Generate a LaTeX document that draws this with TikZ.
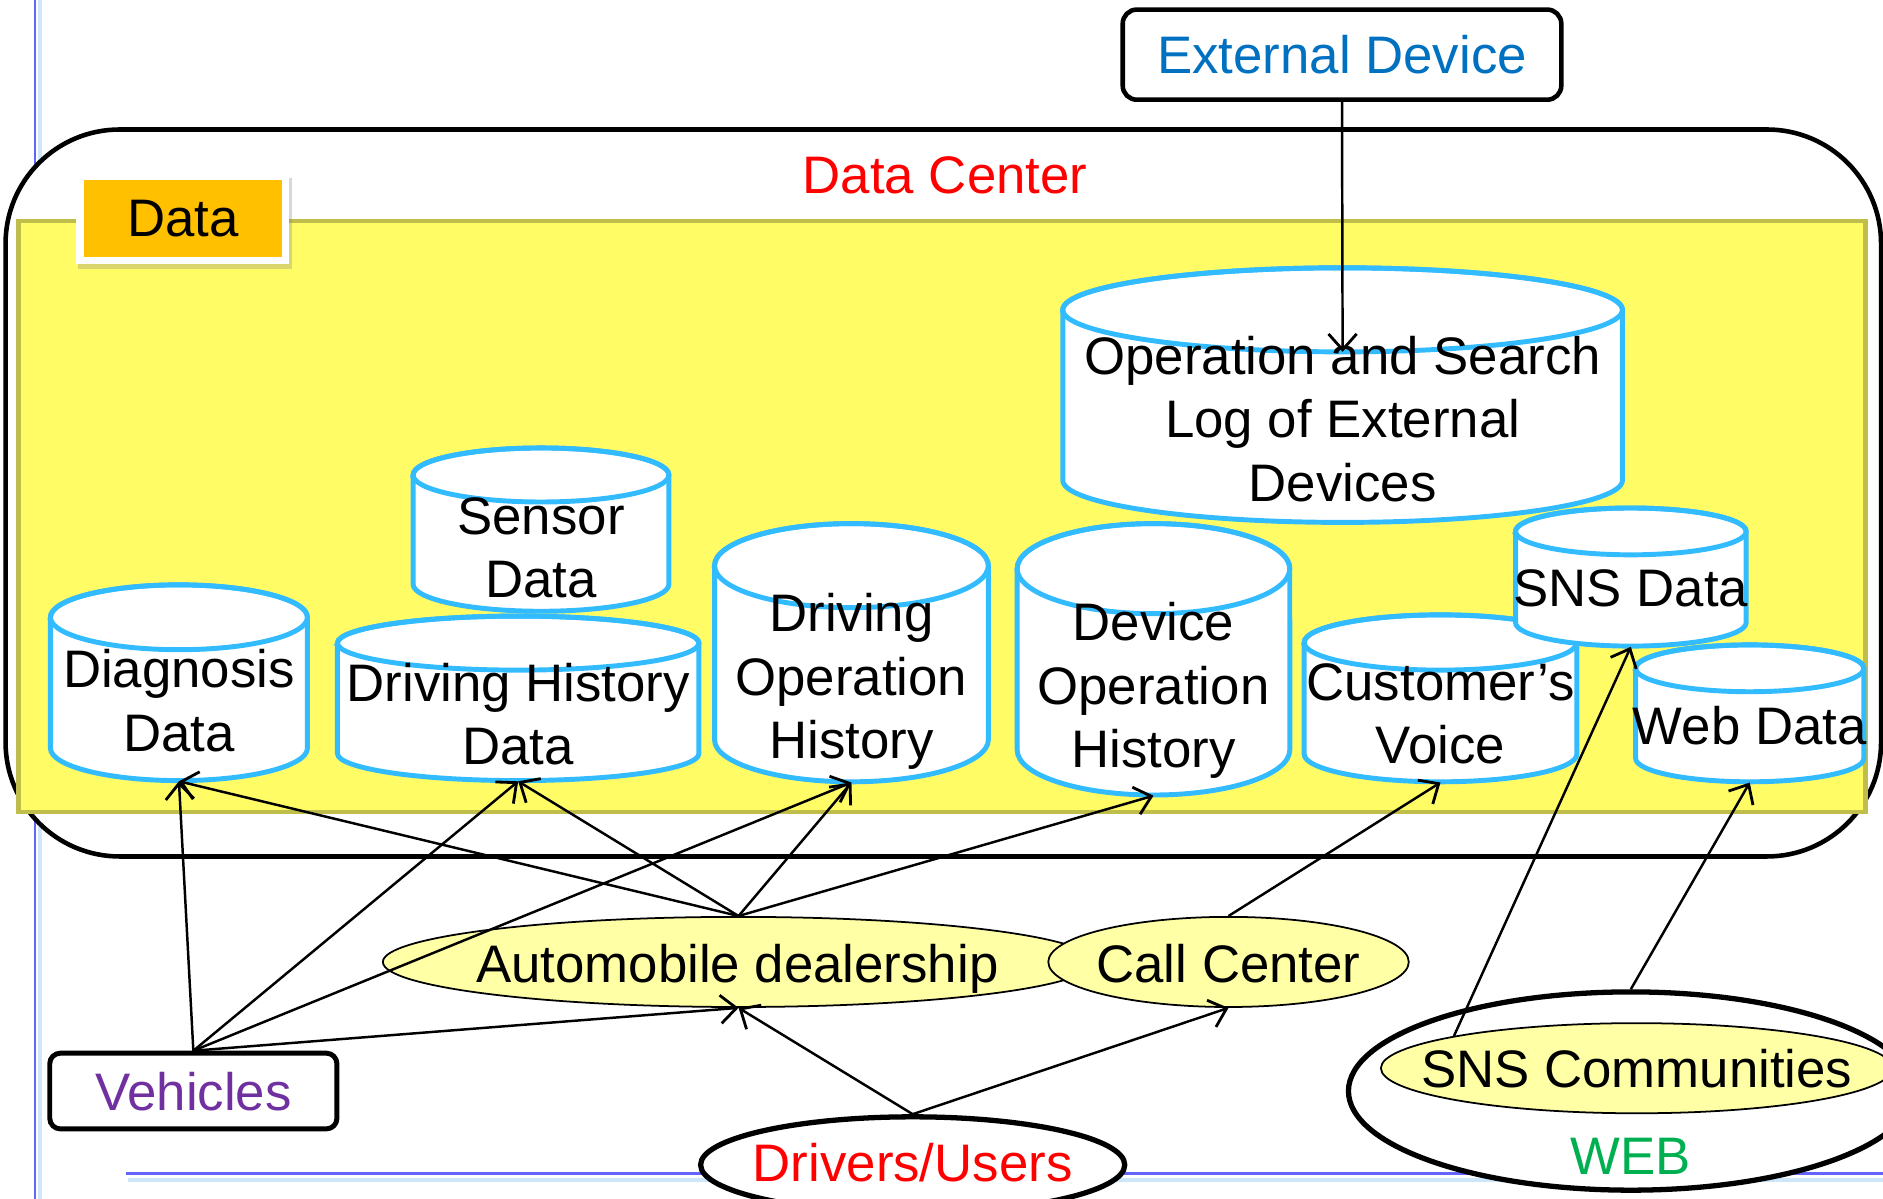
\documentclass[tikz,border=0pt]{standalone}
\usepackage{fontspec}
\setmainfont{Liberation Sans}
\usetikzlibrary{arrows.meta,shapes.geometric,shadows}

\definecolor{cylblue}{RGB}{51,187,255}
\definecolor{areafill}{RGB}{255,252,102}
\definecolor{areaedge}{RGB}{192,190,74}
\definecolor{tabfill}{RGB}{255,192,0}
\definecolor{bubblefill}{RGB}{255,255,166}
\definecolor{extblue}{RGB}{0,112,192}
\definecolor{vpurple}{RGB}{112,48,160}
\definecolor{webgreen}{RGB}{0,176,80}
\definecolor{rulerblue}{RGB}{100,100,255}
\definecolor{rulerlight}{RGB}{205,230,250}

\tikzset{
  txt/.style={font=\fontsize{15}{18}\selectfont, align=center, inner sep=0pt},
  oneline/.style={txt, text depth=0pt},
  cylline/.style={draw=cylblue, line width=1.4pt},
  conn/.style={line width=0.7pt, -{Straight Barb[length=4.5pt,width=8pt,line width=0.8pt]}},
  bubble/.style={ellipse, draw=black, line width=0.5pt, fill=bubblefill, inner sep=0pt},
  heavyoval/.style={ellipse, draw=black, line width=1.5pt, fill=white, inner sep=0pt},
}

% database cylinder: name, left, right, top, bottom, end radius, text centre y, text
\newcommand\dbcyl[8]{%
  \pgfmathsetmacro\cylcx{(#2+#3)/2}%
  \pgfmathsetmacro\cylrx{(#3-#2)/2*0.012}%
  \pgfmathsetmacro\cylry{#6*0.012}%
  \pgfmathsetmacro\cylw{(#3-#2)*0.012}%
  \pgfmathsetmacro\cylh{(#5-#4)*0.012}%
  \draw[cylline, fill=white] (#2,#4+#6) -- (#2,#5-#6)
     arc[start angle=180, end angle=360, x radius=\cylrx cm, y radius=\cylry cm]
     -- (#3,#4+#6)
     arc[start angle=0, end angle=180, x radius=\cylrx cm, y radius=\cylry cm] -- cycle;
  \draw[cylline] (\cylcx,#4+#6) ellipse[x radius=\cylrx cm, y radius=\cylry cm];
  \node[inner sep=0pt, minimum width=\cylw cm, minimum height=\cylh cm] (#1) at (\cylcx,{(#4+#5)/2}) {};
  \coordinate (#1-face) at (\cylcx,#4+2*#6);
  \node[txt] (#1-text) at (\cylcx,#7) {#8};
}

\begin{document}
\begin{tikzpicture}[x=0.012cm, y=-0.012cm]
\useasboundingbox (0,0) rectangle (1568,998);
\clip (0,0) rectangle (1568,998);
\fill[white] (0,0) rectangle (1568,998);

% page rules
\draw[rulerblue, line width=0.7pt] (29,0) -- (29,998);
\draw[rulerlight, line width=1pt] (33.5,0) -- (33.5,998);
\draw[rulerblue, line width=0.7pt] (105,977) -- (1568,977);
\draw[rulerlight, line width=1pt] (107,982.5) -- (1568,982.5);

% external device
\node[draw, rounded corners=4pt, line width=1.3pt, fill=white, minimum width=4.38cm,
      minimum height=0.9cm, inner sep=0pt, font=\fontsize{15}{18}\selectfont, text=extblue, text depth=0pt]
      (extdev) at (1117.5,45.5) {External Device};

% data center frame and data area
\node[draw, rounded corners=1.14cm, line width=1.3pt, fill=white, minimum width=18.73cm,
      minimum height=7.26cm, inner sep=0pt] (dc) at (785.5,410.5) {};
\node[oneline, text=red] (dc-text) at (787,146) {Data Center};
\node[draw=areaedge, line width=1.3pt, fill=areafill, minimum width=18.444cm,
      minimum height=5.904cm, inner sep=0pt] (area) at (784.5,430) {};

% data tab
\node[fill=white, drop shadow={opacity=0.3, shadow xshift=0.6pt, shadow yshift=-1.4pt},
      minimum width=2.136cm, minimum height=0.912cm, inner sep=0pt] (tabframe) at (152,182) {};
\node[oneline, fill=tabfill, minimum width=1.98cm, minimum height=0.768cm] (tab) at (152.5,182) {Data};

% data stores
\dbcyl{oplog}{885}{1351}{223}{435}{35}{349}{Operation and Search\\Log of External\\Devices}
\dbcyl{sensor}{344}{557}{373}{509}{22.5}{456}{Sensor\\Data}
\dbcyl{diag}{42}{256}{487}{650}{27}{583.5}{Diagnosis\\Data}
\dbcyl{dhd}{281}{582}{513}{650}{22.5}{594.5}{Driving History\\Data}
\dbcyl{doh}{595}{823}{436}{651}{35}{567.5}{Driving\\Operation\\History}
\dbcyl{devop}{847}{1074}{436}{662}{37.5}{575}{Device\\Operation\\History}
\dbcyl{voice}{1086}{1313}{512}{651}{23}{594.5}{Customer’s\\Voice}
\dbcyl{snsdata}{1262}{1454}{423}{538}{19.5}{490}{SNS Data}
\dbcyl{webdata}{1362}{1552}{537}{651}{19.5}{604}{Web Data}

% sources
\node[bubble, minimum width=7.104cm, minimum height=0.9cm] (dealer) at (615,801) {};
\node[oneline] (dealer-text) at (614,802) {Automobile dealership};
\node[bubble, minimum width=3.6cm, minimum height=0.9cm] (call) at (1023,801) {};
\node[oneline] (call-text) at (1023,802) {Call Center};

\node[draw, rounded corners=3pt, line width=1.4pt, fill=white, minimum width=2.868cm,
      minimum height=0.756cm, inner sep=0pt, font=\fontsize{15}{18}\selectfont, text=vpurple, text depth=0pt]
      (veh) at (161,908.5) {Vehicles};

\node[heavyoval, minimum width=4.236cm, minimum height=0.96cm] (drivers) at (760,970) {};
\node[oneline, text=red] (drivers-text) at (760,968) {Drivers/Users};

\node[heavyoval, minimum width=5.64cm, minimum height=1.98cm] (web) at (1358,908.5) {};
\node[oneline, text=webgreen] (web-text) at (1358,963) {WEB};
\node[bubble, minimum width=5.112cm, minimum height=0.9cm] (snsc) at (1363,889.5) {};
\node[oneline] (snsc-text) at (1363,890) {SNS Communities};

% data flows
\draw[conn] (extdev.south) -- (oplog-face);
\draw[conn] (veh.north) -- (diag.south);
\draw[conn] (veh.north) -- (dhd.south);
\draw[conn] (veh.north) -- (doh.south);
\draw[conn] (veh.north) -- (dealer.south);
\draw[conn] (dealer.north) -- (diag.south);
\draw[conn] (dealer.north) -- (dhd.south);
\draw[conn] (dealer.north) -- (doh.south);
\draw[conn] (dealer.north) -- (devop.south);
\draw[conn] (call.north) -- (voice.south);
\draw[conn] (drivers.north) -- (dealer.south);
\draw[conn] (drivers.north) -- (call.south);
\draw[conn] (snsc.170) -- (snsdata.south);
\draw[conn] (web.north) -- (webdata.south);
\end{tikzpicture}
\end{document}
